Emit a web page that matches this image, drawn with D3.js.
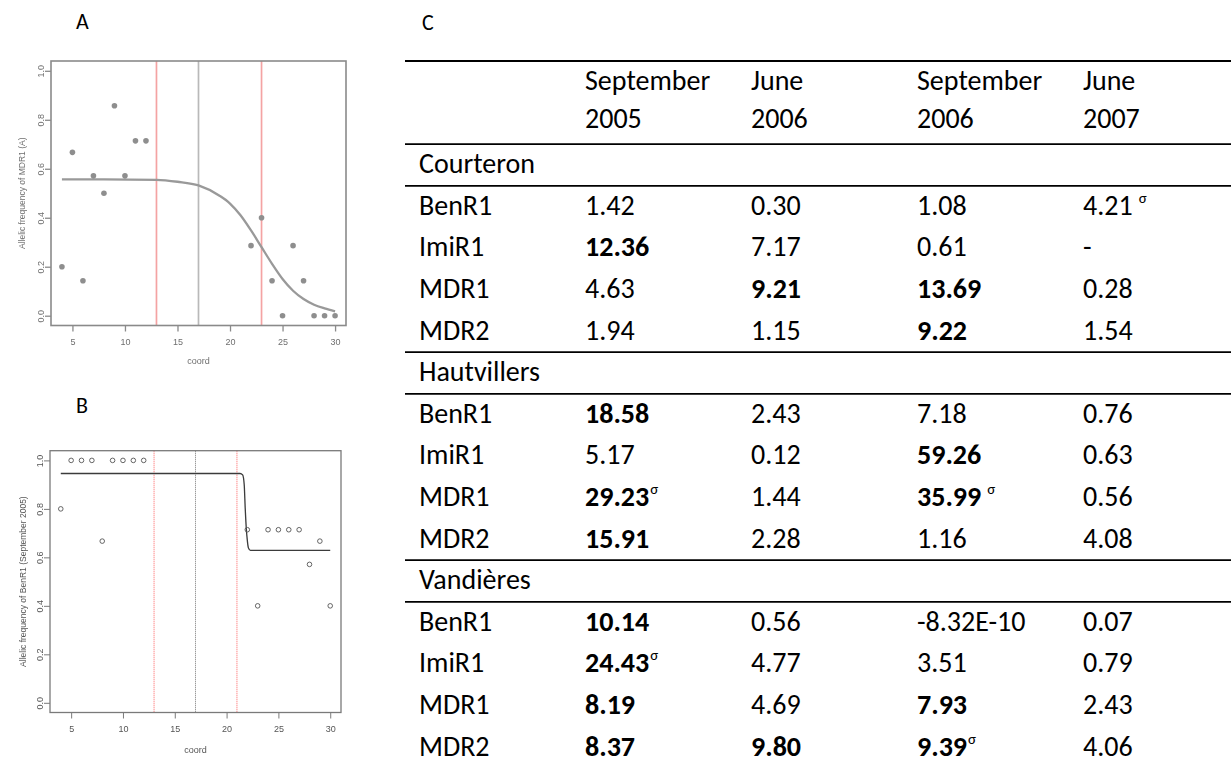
<!DOCTYPE html>
<html>
<head>
<meta charset="utf-8">
<script src="https://cdn.jsdelivr.net/npm/d3@7"></script>
<style>
  html, body { margin: 0; padding: 0; background: #fff; }
  svg { display: block; }
</style>
</head>
<body>
<svg id="fig" width="1231" height="766"></svg>
<script>
// ---------- Panel A: allelic frequency of MDR1 along the transect ----------
const coordA = [4, 5, 6, 7, 8, 9, 10, 11, 12, 22, 23, 24, 25, 26, 27, 28, 29, 30];
const freqA  = [0.2, 0.667, 0.143, 0.571, 0.5, 0.857, 0.571, 0.714, 0.714,
                0.286, 0.4, 0.143, 0, 0.286, 0.143, 0, 0, 0];
// fitted cline
const clineCoordA = [4, 8, 13, 15, 17, 19, 20, 21, 22, 23, 24, 25, 26, 27, 28, 29, 30];
const clineFreqA  = [0.557, 0.557, 0.555, 0.547, 0.532, 0.49, 0.458, 0.41, 0.348,
                     0.28, 0.212, 0.15, 0.102, 0.068, 0.045, 0.03, 0.018];
const boundsA = [13, 23];
const centreA = 17;

// ---------- Panel B: allelic frequency of BenR1 (September 2005) ----------
const coordB = [4, 5, 6, 7, 8, 9, 10, 11, 12, 22, 23, 24, 25, 26, 27, 28, 29, 30];
const freqB  = [0.8, 1, 1, 1, 0.667, 1, 1, 1, 1,
                0.714, 0.4, 0.714, 0.714, 0.714, 0.714, 0.571, 0.667, 0.4];
const clineCoordB = [4, 21.3, 21.55, 21.7, 21.8, 21.9, 22.0, 22.1, 22.3, 30];
const clineFreqB  = [0.946, 0.946, 0.94, 0.9, 0.8, 0.72, 0.67, 0.64, 0.629, 0.629];
const boundsB = [13, 21];
const centreB = 17;

const xTicks = [5, 10, 15, 20, 25, 30];
const yTicks = [0, 0.2, 0.4, 0.6, 0.8, 1.0];

// ---------- Panel C: table ----------
const monthLabels = ["September", "June", "September", "June"];
const yearLabels  = ["2005", "2006", "2006", "2007"];
const sites   = ["Courteron", "Hautvillers", "Vandières"];
const markers = ["BenR1", "ImiR1", "MDR1", "MDR2"];

const courteronValues = [["1.42", "0.30", "1.08", "4.21"],
                         ["12.36", "7.17", "0.61", "-"],
                         ["4.63", "9.21", "13.69", "0.28"],
                         ["1.94", "1.15", "9.22", "1.54"]];
const courteronBold   = [[0,0,0,0],[1,0,0,0],[0,1,1,0],[0,0,1,0]];
// 0 = no mark, 1 = σ set tight, 2 = σ set after a space
const courteronSigma  = [[0,0,0,2],[0,0,0,0],[0,0,0,0],[0,0,0,0]];

const hautvillersValues = [["18.58", "2.43", "7.18", "0.76"],
                           ["5.17", "0.12", "59.26", "0.63"],
                           ["29.23", "1.44", "35.99", "0.56"],
                           ["15.91", "2.28", "1.16", "4.08"]];
const hautvillersBold   = [[1,0,0,0],[0,0,1,0],[1,0,1,0],[1,0,0,0]];
const hautvillersSigma  = [[0,0,0,0],[0,0,0,0],[1,0,2,0],[0,0,0,0]];

const vandieresValues = [["10.14", "0.56", "-8.32E-10", "0.07"],
                         ["24.43", "4.77", "3.51", "0.79"],
                         ["8.19", "4.69", "7.93", "2.43"],
                         ["8.37", "9.80", "9.39", "4.06"]];
const vandieresBold   = [[1,0,0,0],[1,0,0,0],[1,0,1,0],[1,1,1,0]];
const vandieresSigma  = [[0,0,0,0],[1,0,0,0],[0,0,0,0],[0,0,1,0]];

const siteValues = [courteronValues, hautvillersValues, vandieresValues];
const siteBold   = [courteronBold, hautvillersBold, vandieresBold];
const siteSigma  = [courteronSigma, hautvillersSigma, vandieresSigma];

// ======================================================================
const svg = d3.select("#fig");
const defs = svg.append("defs");
defs.append("filter").attr("id", "softA")
  .attr("x", "-5%").attr("y", "-5%").attr("width", "110%").attr("height", "110%")
  .append("feGaussianBlur").attr("stdDeviation", 0.75);
defs.append("filter").attr("id", "softB")
  .attr("x", "-5%").attr("y", "-5%").attr("width", "110%").attr("height", "110%")
  .append("feGaussianBlur").attr("stdDeviation", 0.35);

const letterFont = "Carlito, Calibri, Lato, sans-serif";
const rFont = "'Liberation Sans', Arial, sans-serif";

function drawPanel(cfg) {
  const g = svg.append("g").attr("filter", cfg.filter);
  const x = d3.scaleLinear().domain([2.96, 31.04]).range(cfg.xRange);
  const y = d3.scaleLinear().domain([-0.04, 1.04]).range(cfg.yRange);
  const [x0, x1] = cfg.xRange;
  const [yb, yt] = cfg.yRange;

  // zone boundaries and centre
  cfg.bounds.forEach(v => {
    g.append("line")
      .attr("x1", x(v)).attr("x2", x(v)).attr("y1", yt).attr("y2", yb)
      .attr("stroke", cfg.redColor).attr("stroke-width", cfg.vWidth)
      .attr("stroke-dasharray", cfg.dash);
  });
  g.append("line")
    .attr("x1", x(cfg.centre)).attr("x2", x(cfg.centre)).attr("y1", yt).attr("y2", yb)
    .attr("stroke", cfg.greyColor).attr("stroke-width", cfg.vWidth)
    .attr("stroke-dasharray", cfg.dash);

  // cline
  const line = d3.line().x(d => x(d[0])).y(d => y(d[1])).curve(d3.curveMonotoneX);
  g.append("path")
    .datum(d3.zip(cfg.clineX, cfg.clineY))
    .attr("d", line)
    .attr("fill", "none")
    .attr("stroke", cfg.curveColor)
    .attr("stroke-width", cfg.curveWidth);

  // observed frequencies
  g.selectAll("circle.obs")
    .data(d3.zip(cfg.px, cfg.py))
    .join("circle")
    .attr("class", "obs")
    .attr("cx", d => x(d[0])).attr("cy", d => y(d[1]))
    .attr("r", cfg.pointR)
    .attr("fill", cfg.pointFill)
    .attr("stroke", cfg.pointStroke)
    .attr("stroke-width", cfg.pointStrokeW);

  // plot box
  g.append("rect")
    .attr("x", x0).attr("y", yt).attr("width", x1 - x0).attr("height", yb - yt)
    .attr("fill", "none").attr("stroke", cfg.boxColor).attr("stroke-width", cfg.boxWidth);

  // bottom axis
  const ax = g.append("g").attr("transform", `translate(0,${yb})`)
    .call(d3.axisBottom(x).tickValues(xTicks).tickSize(6).tickPadding(7.5).tickSizeOuter(0));
  ax.select(".domain").remove();
  ax.selectAll(".tick line").attr("stroke", cfg.boxColor).attr("stroke-width", cfg.tickWidth);
  ax.selectAll(".tick text").attr("fill", cfg.textColor)
    .attr("font-family", rFont).attr("font-size", 9);

  // left axis, labels parallel to the axis
  const ay = g.append("g").attr("transform", `translate(${x0},0)`)
    .call(d3.axisLeft(y).tickValues(yTicks).tickFormat(d3.format(".1f")).tickSize(6).tickSizeOuter(0));
  ay.select(".domain").remove();
  ay.selectAll(".tick line").attr("stroke", cfg.boxColor).attr("stroke-width", cfg.tickWidth);
  ay.selectAll(".tick text")
    .attr("x", 0).attr("dy", 0)
    .attr("transform", "translate(-7,0) rotate(-90)")
    .attr("text-anchor", "middle")
    .attr("fill", cfg.textColor)
    .attr("font-family", rFont).attr("font-size", 9);

  // axis titles
  g.append("text")
    .attr("x", (x0 + x1) / 2).attr("y", yb + cfg.xTitleOffset)
    .attr("text-anchor", "middle")
    .attr("font-family", rFont).attr("font-size", 9)
    .attr("fill", cfg.textColor)
    .text("coord");
  g.append("text")
    .attr("transform", `translate(${cfg.yTitleX},${(yb + yt) / 2}) rotate(-90)`)
    .attr("text-anchor", "middle")
    .attr("font-family", rFont).attr("font-size", cfg.yTitleSize)
    .attr("fill", cfg.textColor)
    .text(cfg.yTitle);
}

drawPanel({
  filter: "url(#softA)",
  xRange: [51, 346], yRange: [325.5, 61],
  bounds: boundsA, centre: centreA,
  redColor: "#f4a3a3", greyColor: "#b9b9b9", vWidth: 1.7, dash: null,
  clineX: clineCoordA, clineY: clineFreqA, curveColor: "#999", curveWidth: 2.3,
  px: coordA, py: freqA, pointR: 2.8, pointFill: "#8e8e8e", pointStroke: "none", pointStrokeW: 0,
  boxColor: "#8a8a8a", boxWidth: 1.6, tickWidth: 1.3, textColor: "#6f6f6f",
  xTitleOffset: 38, yTitleX: 25, yTitleSize: 8.5,
  yTitle: "Allelic frequency of MDR1 (A)"
});

drawPanel({
  filter: "url(#softB)",
  xRange: [50, 341], yRange: [712.5, 450.7],
  bounds: boundsB, centre: centreB,
  redColor: "#ff7a7a", greyColor: "#8f8f8f", vWidth: 1, dash: "1.2 0.8",
  clineX: clineCoordB, clineY: clineFreqB, curveColor: "#3a3a3a", curveWidth: 1.3,
  px: coordB, py: freqB, pointR: 2.3, pointFill: "none", pointStroke: "#555", pointStrokeW: 0.9,
  boxColor: "#7a7a7a", boxWidth: 1.3, tickWidth: 1, textColor: "#555",
  xTitleOffset: 40.5, yTitleX: 26, yTitleSize: 8.5,
  yTitle: "Allelic frequency of BenR1 (September 2005)"
});

// panel letters
[["A", 76, 29], ["B", 76, 413], ["C", 422, 30]].forEach(([t, lx, ly]) => {
  svg.append("text").attr("x", lx).attr("y", ly)
    .attr("font-family", letterFont).attr("font-size", 22).attr("fill", "#000").text(t);
});

// ---------- table ----------
const rows = [];
rows.push({ kind: "head", cells: monthLabels });
rows.push({ kind: "head2", cells: yearLabels });
sites.forEach((s, si) => {
  rows.push({ kind: "site", label: s });
  markers.forEach((m, mi) => {
    rows.push({ kind: "data", label: m,
      cells: siteValues[si][mi], bold: siteBold[si][mi], sigma: siteSigma[si][mi] });
  });
});

const rowY = d3.scaleBand().domain(d3.range(rows.length)).range([61, 61 + rows.length * 41.6]).paddingInner(0);
const colX = d3.scaleLinear().domain([0, 4]).range([419, 1083]);
const tableFont = "Carlito, Calibri, Lato, sans-serif";
const tableSize = 28;

const tbl = svg.append("g").attr("font-family", tableFont).attr("font-size", tableSize).attr("fill", "#000");

// horizontal rules: top, below header, around each site heading
const ruleRows = [0, 2];
rows.forEach((r, i) => { if (r.kind === "site" && i > 2) { ruleRows.push(i); } if (r.kind === "site") ruleRows.push(i + 1); });
tbl.selectAll("line.rule")
  .data(ruleRows)
  .join("line")
  .attr("class", "rule")
  .attr("x1", 405).attr("x2", 1231)
  .attr("y1", d => rowY(d)).attr("y2", d => rowY(d))
  .attr("stroke", "#000").attr("stroke-width", 1.8);

rows.forEach((r, i) => {
  const base = rowY(i) + (r.kind === "head2" ? 25.5 : 29);
  if (r.kind === "head" || r.kind === "head2") {
    r.cells.forEach((c, ci) => {
      tbl.append("text").attr("x", colX(ci + 1)).attr("y", base).text(c);
    });
  } else if (r.kind === "site") {
    tbl.append("text").attr("x", colX(0)).attr("y", base).text(r.label);
  } else {
    tbl.append("text").attr("x", colX(0)).attr("y", base).text(r.label);
    r.cells.forEach((c, ci) => {
      const t = tbl.append("text").attr("x", colX(ci + 1)).attr("y", base)
        .attr("font-weight", r.bold[ci] ? 700 : 400);
      t.append("tspan").text(c);
      if (r.sigma[ci]) {
        t.append("tspan")
          .attr("dx", r.sigma[ci] === 2 ? 6 : 1)
          .attr("dy", -12)
          .attr("font-size", 15)
          .attr("font-weight", 400)
          .text("σ");
      }
    });
  }
});
</script>
</body>
</html>
